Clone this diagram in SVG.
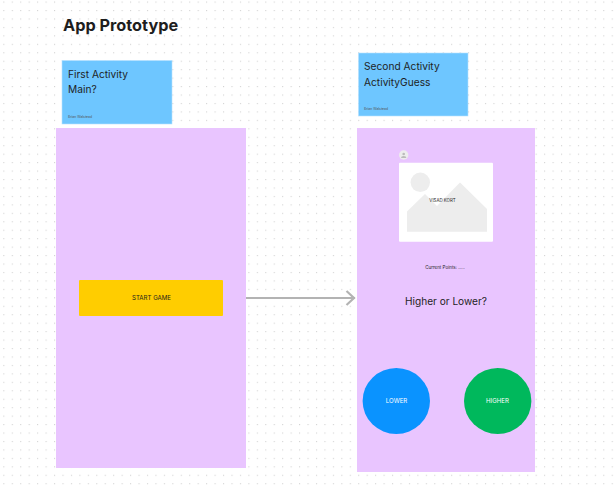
<svg xmlns="http://www.w3.org/2000/svg" width="614" height="487" viewBox="0 0 614 487">
<style>
text{font-family:Inter,"Liberation Sans",sans-serif;fill:#1e1e1e}
.h{font-size:10.2px}
.s{font-size:3.4px;fill:#555}
.m{font-size:6.1px;text-anchor:middle}
.w{fill:#fff}
.sticky{fill:#6ec6ff;stroke:#b5e1ff;stroke-width:.6}
.frame{fill:#e9c5ff}
.ph{fill:#ededed}
</style>
<defs>
<pattern id="dots" x="3.3" y="1.55" width="8.45" height="8.45" patternUnits="userSpaceOnUse"><rect width="1.1" height="1.1" fill="#d2d2d2"/></pattern>
<marker id="arr" markerUnits="userSpaceOnUse" markerWidth="14" markerHeight="18" refX="10" refY="8" orient="auto"><path d="M1.5 1L9 8L1.5 15" fill="none" stroke="#b3b3b3" stroke-width="2.2"/></marker>
</defs>
<rect width="614" height="487" fill="#fff"/>
<rect width="614" height="487" fill="url(#dots)"/>
<text id="title" x="63" y="31" font-size="16.3" font-weight="700">App Prototype</text>
<g id="sticky-first"><rect class="sticky" x="62" y="60.500" width="110" height="63.500"/><text class="h" x="68" y="77.700">First Activity</text><text class="h" x="68" y="93.300">Main?</text><text class="s" x="68" y="117.500">Brian Walstead</text></g>
<g id="sticky-second"><rect class="sticky" x="358.500" y="53" width="109.500" height="63"/><text class="h" x="364" y="70">Second Activity</text><text class="h" x="364" y="86">ActivityGuess</text><text class="s" x="364" y="110">Brian Walstead</text></g>
<g id="screen-first"><rect class="frame" x="56" y="128" width="190" height="340"/></g>
<g id="button-start"><rect x="79" y="280" width="144" height="36" rx="1" fill="#ffcd00"/><text class="m" x="151.500" y="300">START GAME</text></g>
<g id="screen-second"><rect class="frame" x="357" y="128" width="178" height="344"/></g>
<g id="avatar"><circle class="ph" cx="403.700" cy="155" r="4.700"/><circle cx="403.700" cy="154" r="1.300" fill="#bbb"/><path d="M401 158a2.700 2 0 0 1 5.400 0z" fill="#bbb"/></g>
<g id="image-card"><rect x="399" y="162.700" width="94" height="79" rx="1" fill="#fff"/><circle class="ph" cx="420.300" cy="182.300" r="9.700"/><path class="ph" d="M407 211.500L425 194L437 206L460 182.500L487 209V231.700H407z"/><text x="442.500" y="201.700" font-size="4.400" text-anchor="middle">VISAD KORT</text></g>
<text id="points" x="445" y="269" font-size="4.500" text-anchor="middle">Current Points: .....</text>
<text id="question" x="446" y="304.500" font-size="10.100" text-anchor="middle">Higher or Lower?</text>
<g id="button-lower"><ellipse cx="396.300" cy="401" rx="33.700" ry="33" fill="#0a93ff"/><text class="m w" x="396.500" y="403.300">LOWER</text></g>
<g id="button-higher"><ellipse cx="497.700" cy="401" rx="33.700" ry="33" fill="#00b85c"/><text class="m w" x="497.500" y="403.300">HIGHER</text></g>
<g id="connectors"><line x1="246" y1="298" x2="355" y2="298" stroke="#b3b3b3" stroke-width="2.200" marker-end="url(#arr)"/></g>
</svg>
